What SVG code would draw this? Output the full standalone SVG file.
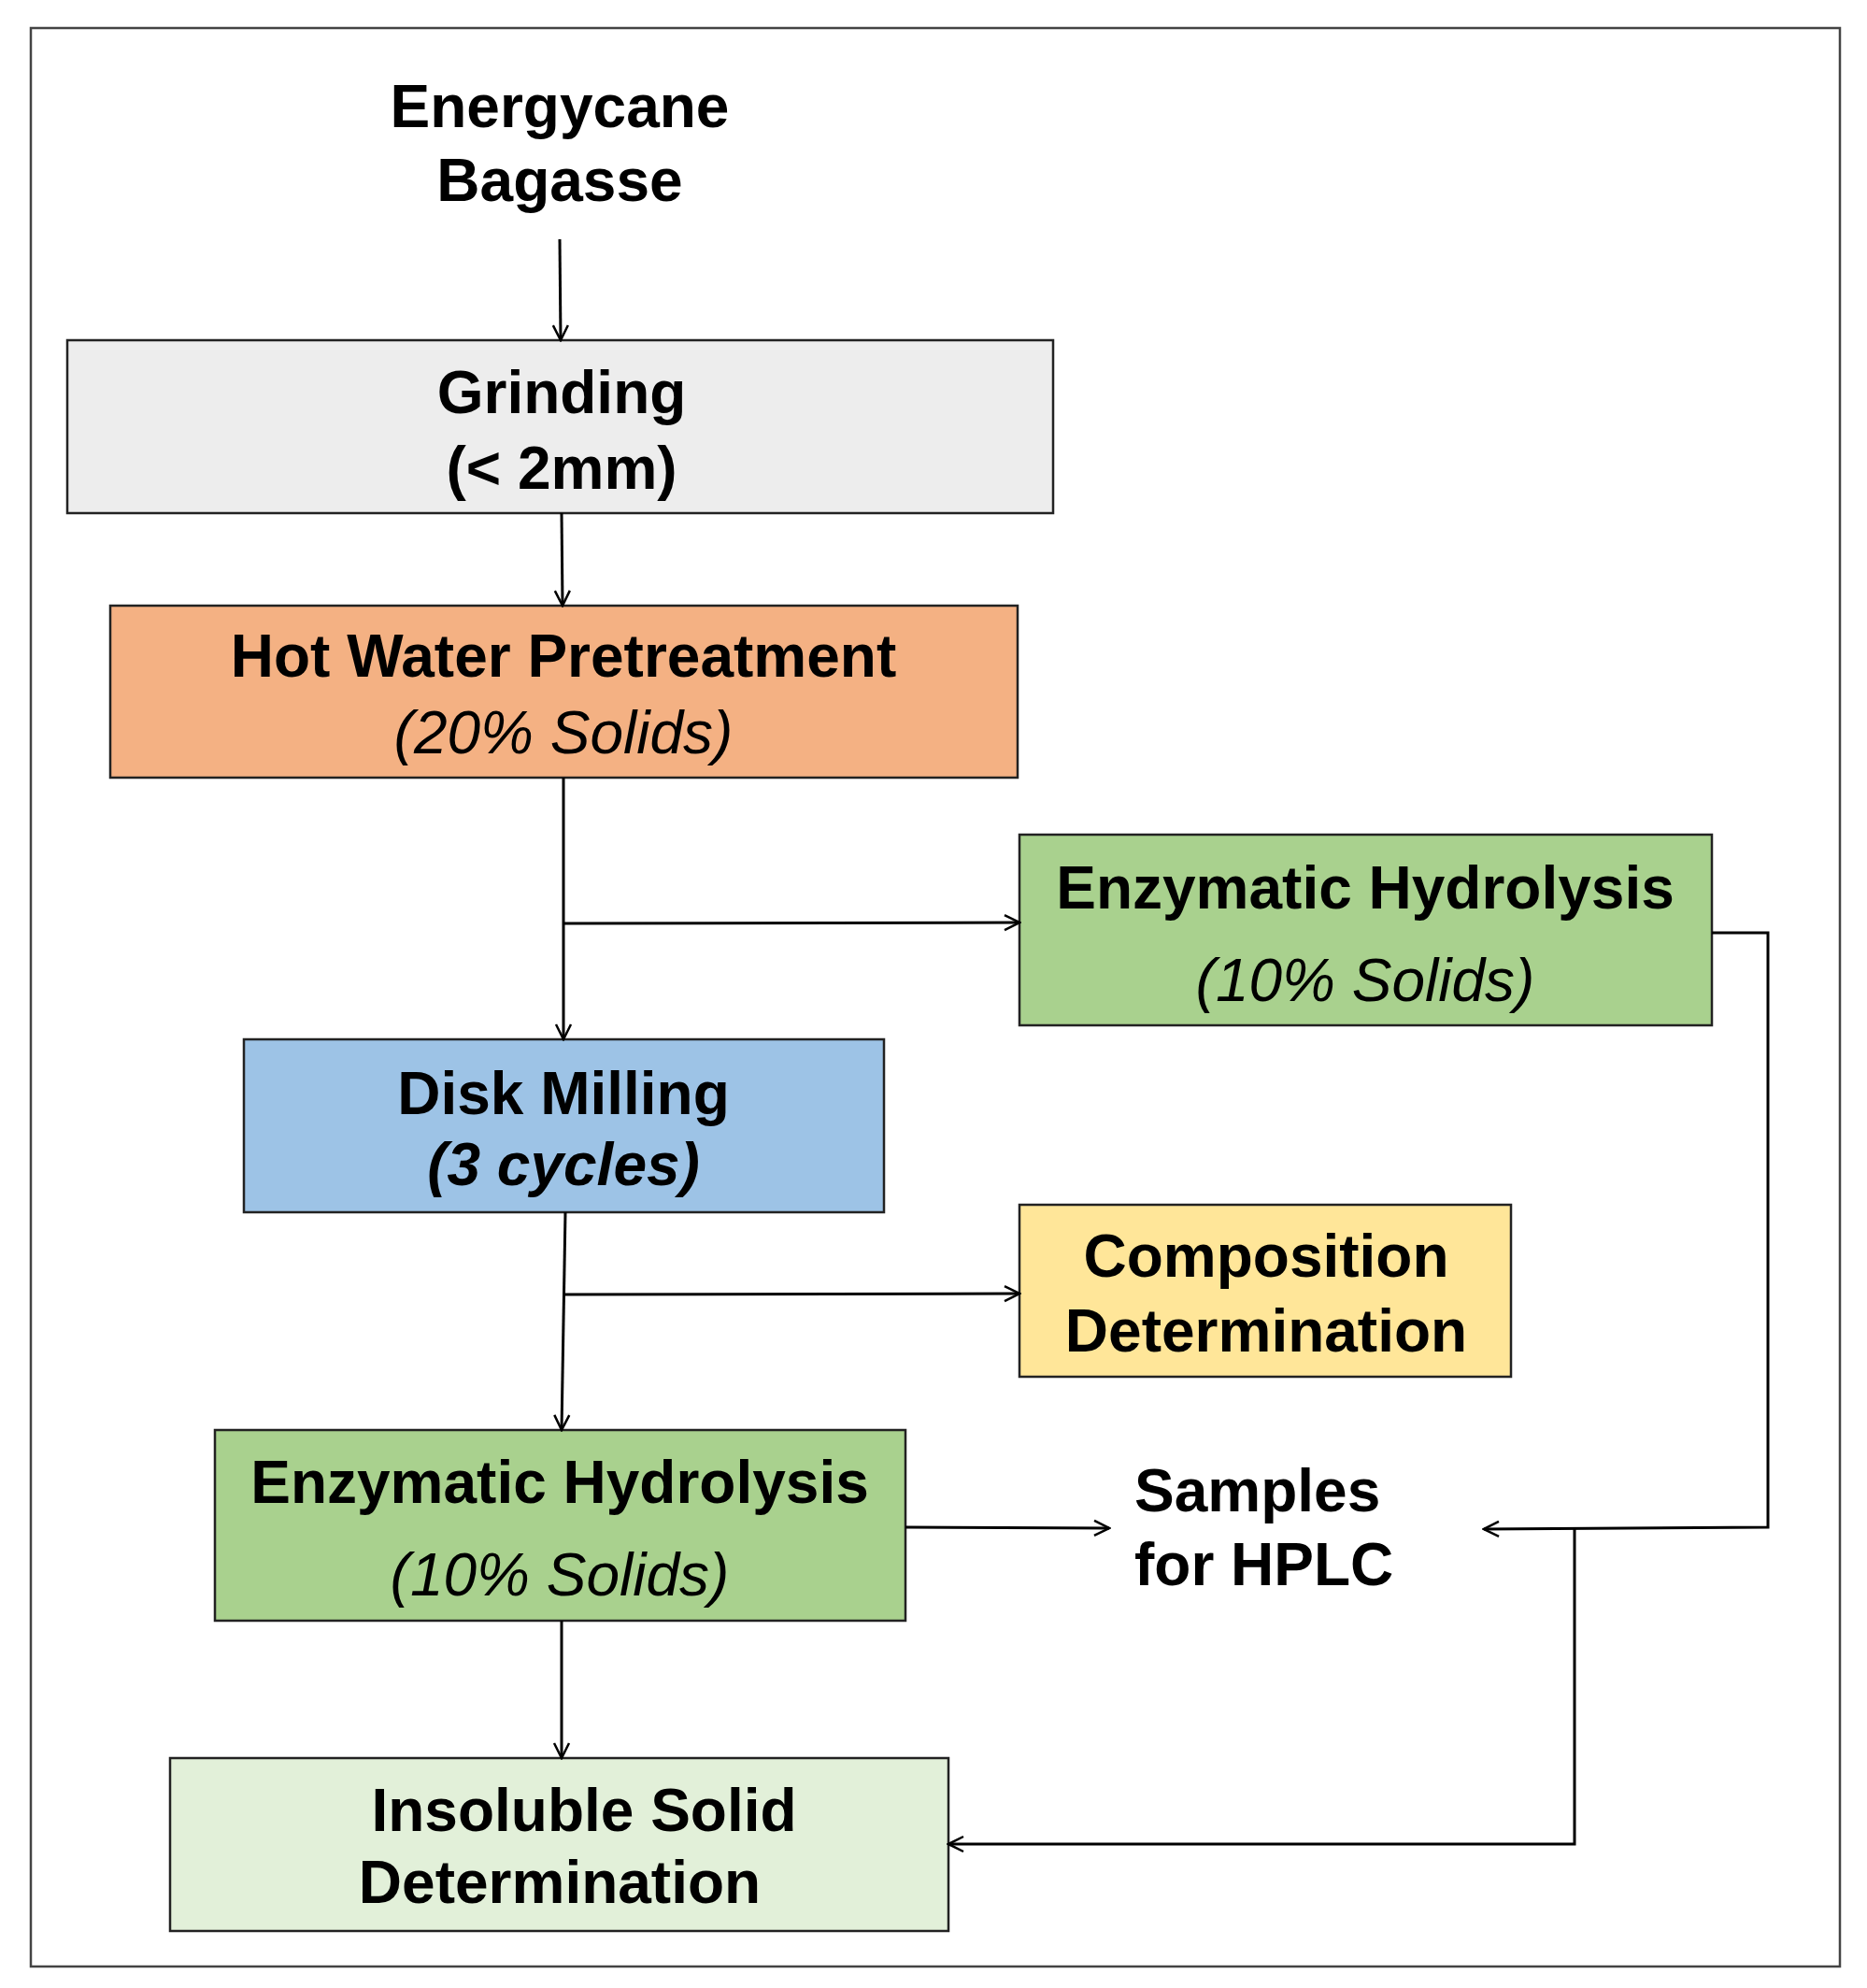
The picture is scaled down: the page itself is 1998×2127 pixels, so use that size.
<svg xmlns="http://www.w3.org/2000/svg" width="1998" height="2127" viewBox="0 0 1998 2127">
<style>
.b{stroke:#222;stroke-width:2.5}
text{font-family:"Liberation Sans",Arial,sans-serif;font-size:64px;fill:#000;text-anchor:middle}
.bd{font-weight:bold}
.it{font-style:italic}
.c{fill:none;stroke:#000;stroke-width:3}
</style>
<defs><marker id="a" viewBox="0 0 20 20" refX="18" refY="10" markerWidth="20" markerHeight="20" markerUnits="userSpaceOnUse" orient="auto"><path d="M2,2 L18,10 L2,18" fill="none" stroke="#000" stroke-width="2.5"/></marker></defs>
<rect x="0" y="0" width="1998" height="2127" fill="#fff"/>
<rect x="33" y="30" width="1936" height="2074" fill="none" stroke="#444" stroke-width="2.5"/>
<g id="start"><text class="bd" x="599" y="136">Energycane</text><text class="bd" x="599" y="215">Bagasse</text></g>
<g id="grinding"><rect class="b" x="72" y="364" width="1055" height="185" fill="#EDEDED"/><text class="bd" x="601" y="442">Grinding</text><text class="bd" x="601" y="523">(&lt; 2mm)</text></g>
<g id="hotwater"><rect class="b" x="118" y="648" width="971" height="184" fill="#F4B183"/><text class="bd" x="603" y="724">Hot Water Pretreatment</text><text class="it" x="603" y="806">(20% Solids)</text></g>
<g id="eh1"><rect class="b" x="1091" y="893" width="741" height="204" fill="#A9D18E"/><text class="bd" x="1461" y="972">Enzymatic Hydrolysis</text><text class="it" x="1461" y="1071">(10% Solids)</text></g>
<g id="disk"><rect class="b" x="261" y="1112" width="685" height="185" fill="#9DC3E6"/><text class="bd" x="603" y="1192">Disk Milling</text><text class="bd it" x="603" y="1268">(3 cycles)</text></g>
<g id="comp"><rect class="b" x="1091" y="1289" width="526" height="184" fill="#FFE699"/><text class="bd" x="1355" y="1366">Composition</text><text class="bd" x="1355" y="1446">Determination</text></g>
<g id="eh2"><rect class="b" x="230" y="1530" width="739" height="204" fill="#A9D18E"/><text class="bd" x="599" y="1608">Enzymatic Hydrolysis</text><text class="it" x="599" y="1707">(10% Solids)</text></g>
<g id="samples"><text class="bd" x="1214" y="1617" style="text-anchor:start">Samples</text><text class="bd" x="1214" y="1696" style="text-anchor:start">for HPLC</text></g>
<g id="insoluble"><rect class="b" x="182" y="1881" width="833" height="185" fill="#E2F0D9"/><text class="bd" x="625" y="1959">Insoluble Solid</text><text class="bd" x="599" y="2036">Determination</text></g>
<g id="connectors">
<path class="c" d="M599,256 L600,364" marker-end="url(#a)"/>
<path class="c" d="M601,549 L602,648" marker-end="url(#a)"/>
<path class="c" d="M603,832 L603,1112" marker-end="url(#a)"/>
<path class="c" d="M603,988 L1091,987" marker-end="url(#a)"/>
<path class="c" d="M605,1297 L601,1530" marker-end="url(#a)"/>
<path class="c" d="M604,1385 L1091,1384" marker-end="url(#a)"/>
<path class="c" d="M969,1634 L1187,1635" marker-end="url(#a)"/>
<path class="c" d="M1832,998 L1892,998 L1892,1634 L1588,1636" marker-end="url(#a)" stroke-width="4"/>
<path class="c" d="M1685,1635 L1685,1973 L1015,1973" marker-end="url(#a)"/>
<path class="c" d="M601,1734 L601,1881" marker-end="url(#a)"/>
</g>
</svg>
